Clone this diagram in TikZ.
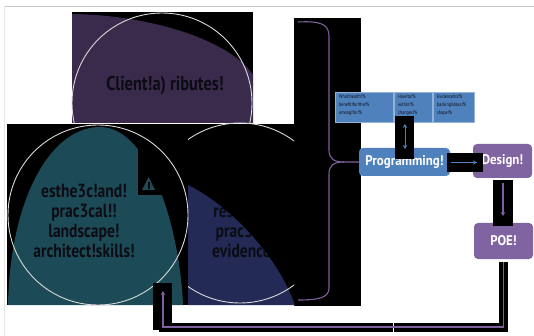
\documentclass[tikz,border=0pt]{standalone}
\usepackage{fontspec}
\usetikzlibrary{arrows.meta}
\newfontfamily\cond[FakeStretch=0.82]{PT Sans Bold}
\newfontfamily\condr[FakeStretch=0.8]{PT Sans}
\newfontfamily\condb[FakeStretch=0.92]{PT Sans Bold}
\definecolor{plum}{HTML}{3A2A4C}
\definecolor{tealc}{HTML}{1C4B57}
\definecolor{navyc}{HTML}{222A55}
\definecolor{bluec}{HTML}{4F81BD}
\definecolor{violet}{HTML}{8064A2}
\definecolor{bracec}{HTML}{7E5F9F}
\definecolor{ink}{HTML}{0C0C14}
\tikzset{
  ring/.style={draw=gray!30, line width=0.9pt},
  bigtext/.style={font=\cond\fontsize{19}{20}\selectfont, text=ink, align=center, inner sep=0},
  tiny/.style={font=\condr\fontsize{5.2}{7.8}\selectfont, text=ink, align=left, anchor=north west, inner sep=0},
  infobox/.style={fill=bluec, draw=bluec!60!white, line width=0.5pt, minimum height=30, anchor=north west, inner sep=0},
  stage/.style={rounded corners=4pt, text=white, font=\condb\fontsize{14}{15}\selectfont, inner sep=0},
  blk/.style={fill=black},
  tip/.style={-{Stealth[length=4pt,width=4.5pt]}},
}
\begin{document}
\begin{tikzpicture}[x=1pt,y=-1pt]
\useasboundingbox (0,0) rectangle (534,336);
\fill[white] (0,0) rectangle (534,336);
% frame lines
\draw[gray!45, line width=0.8pt] (5,6) -- (534,6);
\draw[gray!20, line width=0.6pt] (4,6) -- (4,336);
% upper block
\fill[black] (72,12) rectangle (253,123);
\fill[plum] (72,14) .. controls (150,15) and (230,40) .. (253,75) -- (253,123) -- (72,123) -- cycle;
\draw[ring] (162,103) circle (90);
\node[bigtext, font=\cond\fontsize{20}{21}\selectfont] (client) at (165,86) {Client!a) ributes!};
% brace block and lower block
\fill[black] (294,18) rectangle (361,306);
\fill[black] (7,124) rectangle (295,305);
% teal arch
\fill[tealc] (8,305) .. controls (10,200) and (50,127) .. (100,127) .. controls (150,127) and (180,230) .. (183,305) -- cycle;
\fill[black] (138,124) rectangle (188,195);
\fill[tealc] (142,190) -- (148.5,177) -- (155,190) -- cycle;
\fill[black] (148,182) rectangle (150,189);
% navy region
\fill[navyc] (188,185) .. controls (225,203) and (275,250) .. (295,305) -- (188,305) -- cycle;
% circles
\draw[ring] (98,215) circle (90);
\begin{scope}
  \clip (188,120) rectangle (294,310);
  \draw[ring] (240,213) circle (90);
\end{scope}
% texts
\node[bigtext] (skills) at (84,221) {esthe3c!and!\\prac3cal!!\\landscape!\\architect!skills!};
\begin{scope}
  \clip (188,185) .. controls (225,203) and (275,250) .. (295,305) -- (188,305) -- cycle;
  \node[bigtext, anchor=north west] (research) at (212,204) {research!\\prac3ce!\\evidence!};
\end{scope}
% brace
\draw[bracec, line width=1.1pt] (298,22) .. controls (318,21) and (329,23) .. (329,36) -- (329,150)
  .. controls (329,159) and (334,162) .. (344,162) -- (359,162);
\draw[bracec, line width=1.1pt] (344,162) .. controls (334,162) and (329,165) .. (329,174) -- (329,288)
  .. controls (329,298) and (318,300) .. (298,300);
% info boxes
\node[infobox, minimum width=58] (q1) at (335,92) {};
\node[infobox, minimum width=38] (q2) at (394,92) {};
\node[infobox, minimum width=41] (q3) at (433,92) {};
\node[tiny] (t1) at (339,94.5) {What!health!\%\\benefit!for!the!\%\\among!for!\%};
\node[tiny] (t2) at (398,94.5) {How!to!\%\\within!\%\\changes!\%};
\node[tiny] (t3) at (437,94.5) {Evidence!to!\%\\backing!ideas!\%\\shape!\%};
% stages
\node[stage, fill=bluec, minimum width=91, minimum height=28] (prog) at (404.5,162) {Programming!};
\node[stage, fill=violet, minimum width=59, minimum height=34] (design) at (502.5,161) {Design!};
\node[stage, fill=violet, minimum width=59, minimum height=36] (poe) at (503.5,241) {POE!};
% connector backdrops
\fill[blk] (395,116) rectangle (414,159);
\fill[blk] (447,153) rectangle (483,172);
\fill[blk] (493,180) rectangle (513,226);
\fill[blk] (153,283) rectangle (172,330);
\coordinate (c1) at (503.5,327);
\coordinate (c2) at (163,327);
\coordinate (up) at (163,291);
\draw[black, line width=9pt] (503.5,262) -- (c1) -- (c2) -- (163,300);
\draw[white, line width=0.8pt] (393,322.5) -- (393,331.5);
% arrows
\draw[bluec, line width=1pt, {Stealth[length=4pt,width=4.5pt]}-{Stealth[length=4pt,width=4.5pt]}] (405,124) -- (405,149);
\draw[bluec, line width=1pt, tip] (451,162.5) -- (477,162.5);
\draw[bracec, line width=1.2pt, tip] (503,183) -- (503,216);
\draw[bracec, line width=1.4pt, tip] (503.5,262) -- (c1) -- (c2) -- (up);
\end{tikzpicture}
\end{document}
